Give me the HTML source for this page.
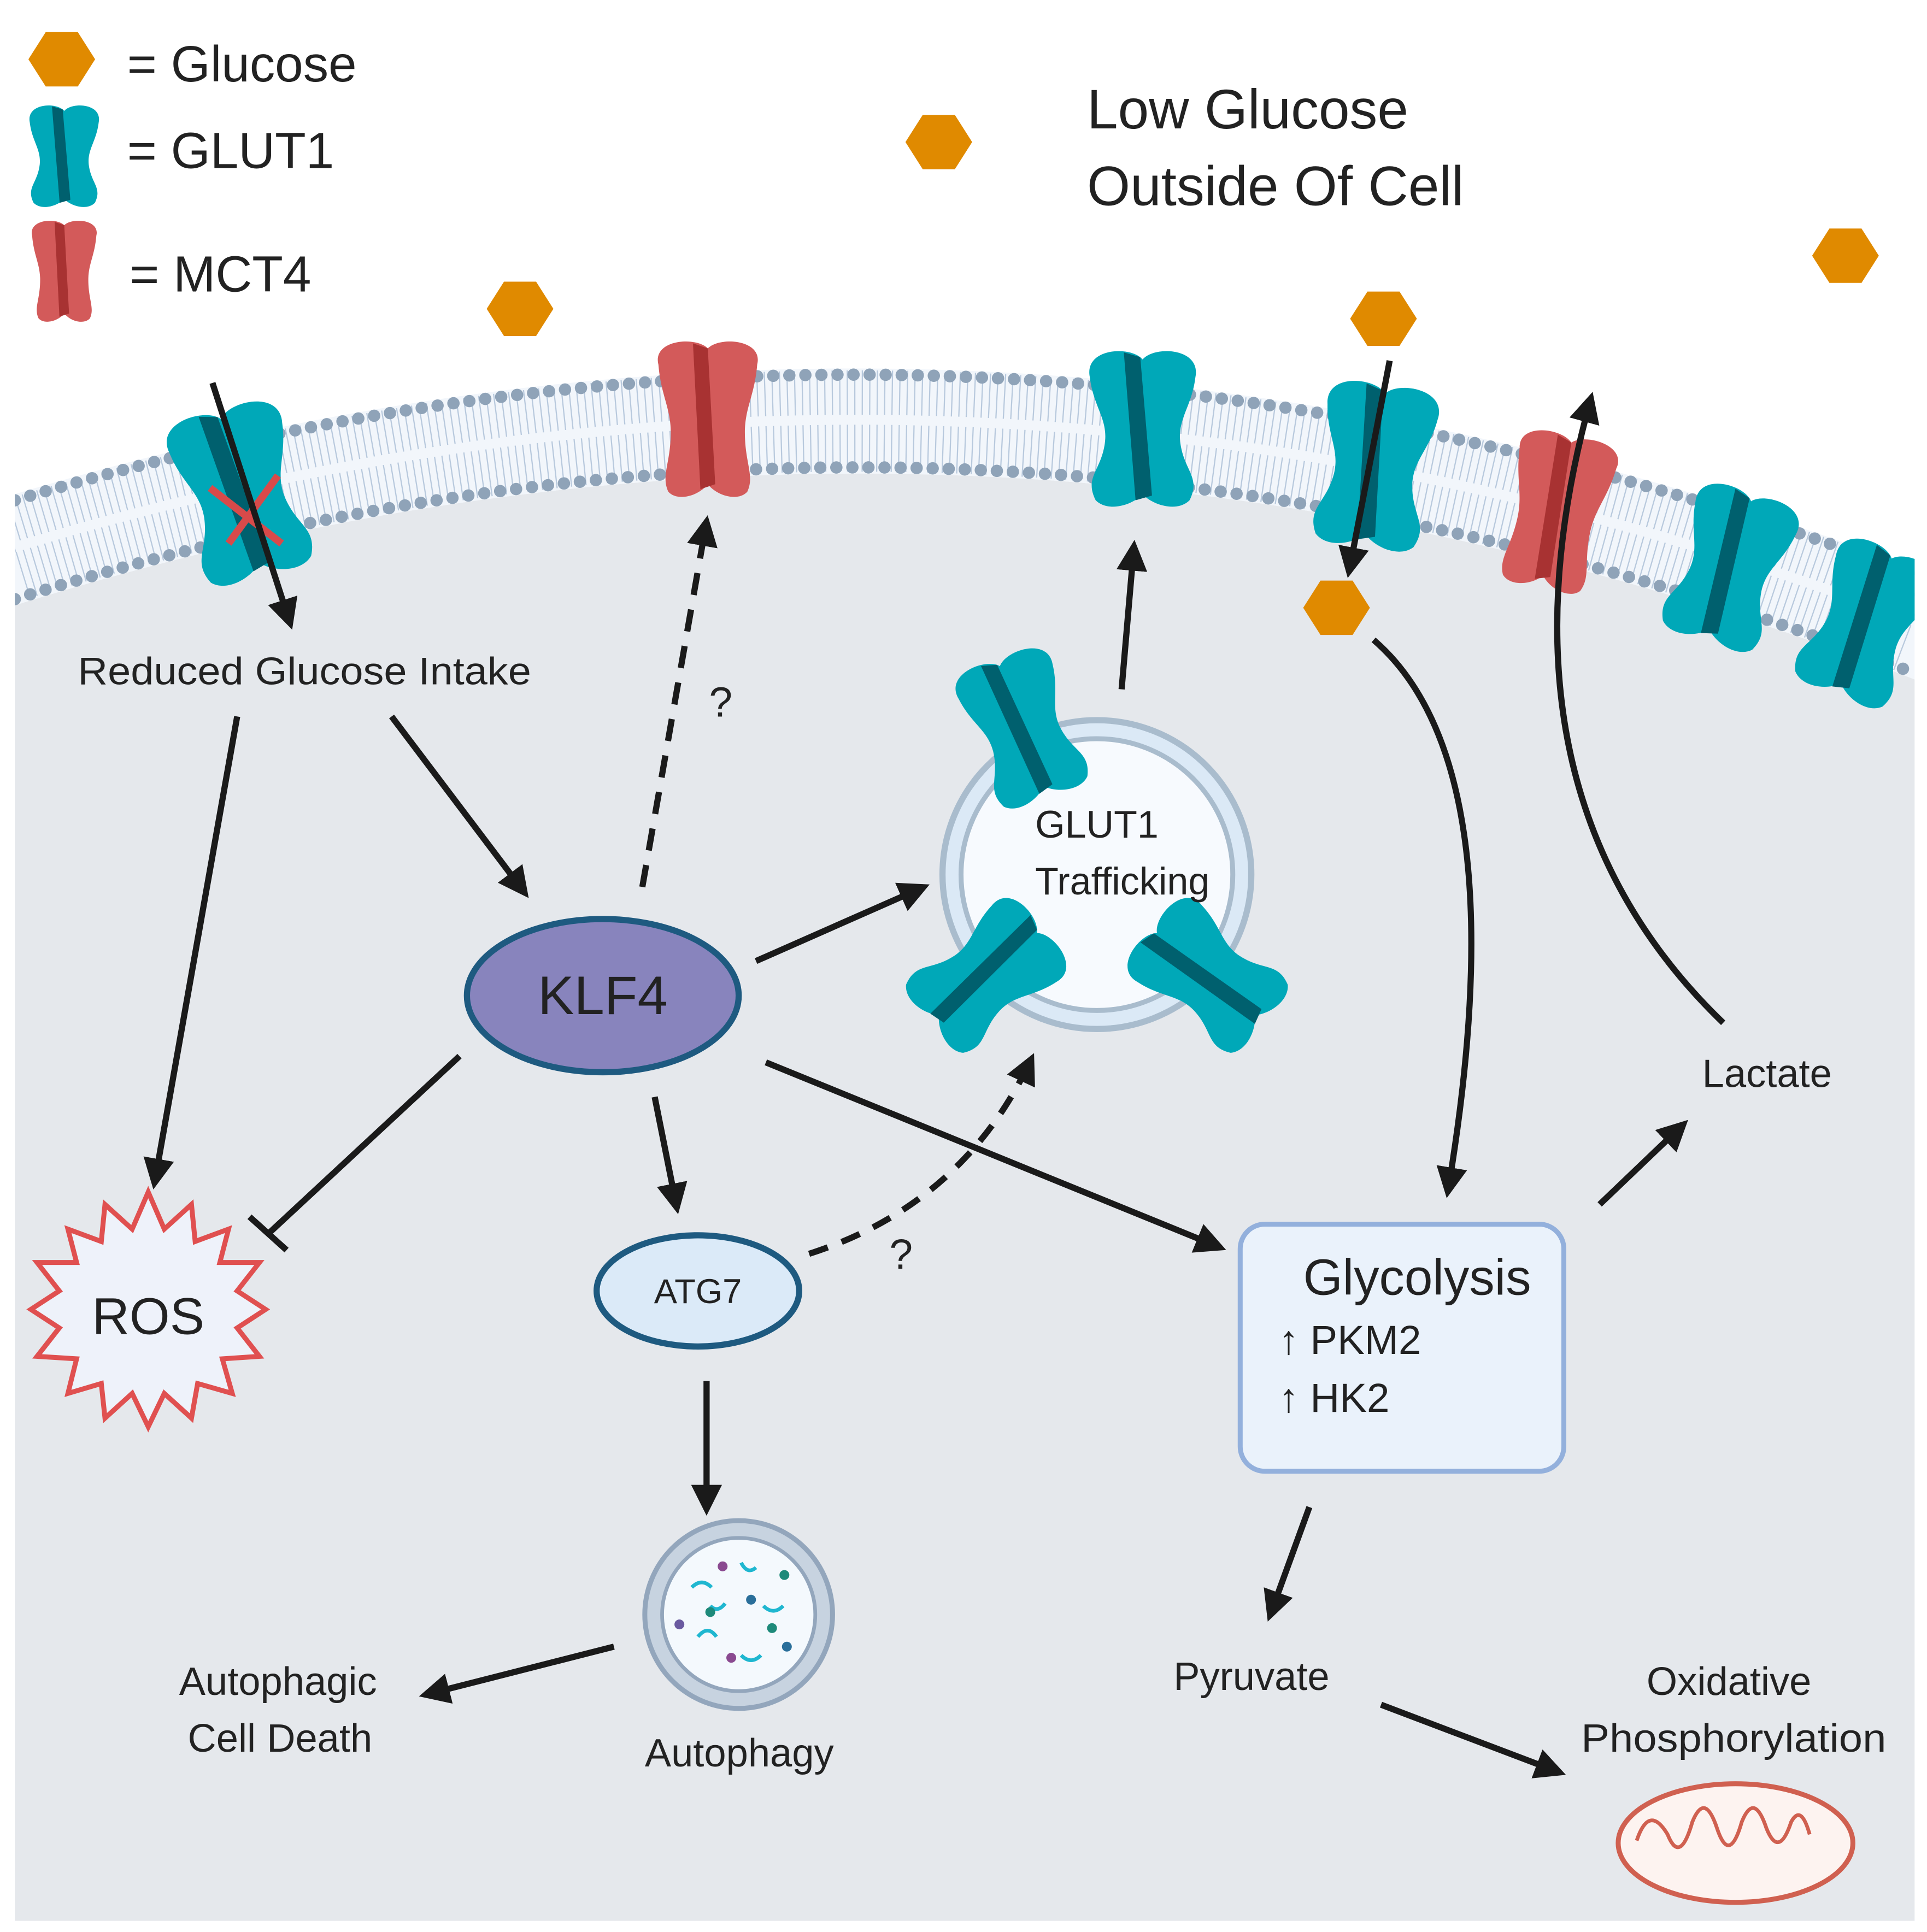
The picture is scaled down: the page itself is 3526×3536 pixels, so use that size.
<!DOCTYPE html>
<html><head><meta charset="utf-8"><style>
html,body{margin:0;padding:0;background:#fff}
svg{display:block}
text{font-family:"Liberation Sans",sans-serif;fill:#222}
</style></head><body>
<svg width="3526" height="3536" viewBox="0 0 1560 1564" preserveAspectRatio="none" xmlns="http://www.w3.org/2000/svg">
<defs>
<clipPath id="cc"><rect x="12" y="0" width="1538" height="1564"/></clipPath>
<marker id="ah" viewBox="0 0 10 10" refX="8" refY="5" markerWidth="5" markerHeight="5" orient="auto" markerUnits="strokeWidth">
<path d="M0,0 L10,5 L0,10 Z" fill="#1a1a1a"/></marker>
<g id="glut">
<path d="M-45,-45 C-50,-70 -10,-72 0,-60 C10,-72 50,-70 45,-45 C42,-20 30,-10 32,10 C35,35 50,40 40,60 C30,70 10,65 0,55 C-10,65 -30,70 -40,60 C-50,40 -35,35 -32,10 C-30,-10 -42,-20 -45,-45Z" fill="#00a8b8"/>
<path d="M-16,-66 L-2,-62 L8,56 L-6,60Z" fill="#00606e"/>
</g>
<g id="mct">
<path d="M-40,-45 C-45,-65 -10,-68 0,-58 C10,-68 45,-65 40,-45 C38,-20 30,-10 30,10 C30,35 38,45 32,58 C25,66 8,62 0,52 C-8,62 -25,66 -32,58 C-38,45 -30,35 -30,10 C-30,-10 -38,-20 -40,-45Z" fill="#d35a5a"/>
<path d="M-12,-62 L0,-58 L6,52 L-6,56Z" fill="#a83232"/>
</g>
<polygon id="hex" points="-27,0 -13,-22 13,-22 27,0 13,22 -13,22" fill="#e08a00"/>
</defs>
<rect width="1560" height="1564" fill="#fff"/>
<g clip-path="url(#cc)">
<path d="M12,490 Q780,250 1550,550 L1550,1555 L12,1555 Z" fill="#e5e8ec"/>
<path d="M12,400 Q780,170 1550,460 L1550,550 Q780,250 12,490 Z" fill="#f2f6fb"/>
<path d="M12,445 Q780,210 1550,505" fill="none" stroke="#b8c9dd" stroke-width="82" stroke-dasharray="1 5"/>
<path d="M12,443 Q780,210 1550,503" fill="none" stroke="#f2f6fb" stroke-width="8"/>
<path d="M12,405 Q780,175 1550,465" fill="none" stroke="#8fa3b8" stroke-width="10" stroke-linecap="round" stroke-dasharray="0 13"/>
<path d="M12,485 Q780,245 1550,545" fill="none" stroke="#8fa3b8" stroke-width="10" stroke-linecap="round" stroke-dasharray="0 13"/>
<use href="#glut" transform="translate(195,400) rotate(-15) scale(1.05)"/>
<path d="M170,395 L228,440 M225,385 L185,440" stroke="#d84a4a" stroke-width="6"/>
<use href="#mct" transform="translate(573,340) scale(1.0)"/>
<use href="#glut" transform="translate(925,348) scale(0.95)"/>
<use href="#glut" transform="translate(1113,378) rotate(8) scale(1.0)"/>
<use href="#mct" transform="translate(1260,415) rotate(12) scale(1.0)"/>
<use href="#glut" transform="translate(1400,460) rotate(18) scale(0.95)"/>
<use href="#glut" transform="translate(1510,505) rotate(22) scale(0.95)"/>
</g>
<use href="#hex" transform="translate(50,48) scale(1)"/>
<use href="#glut" transform="translate(52,127) scale(0.62)"/>
<use href="#mct" transform="translate(52,220) scale(0.65)"/>
<text x="103" y="66" font-size="41">= Glucose</text>
<text x="103" y="136" font-size="41">= GLUT1</text>
<text x="105" y="236" font-size="41">= MCT4</text>
<text x="880" y="104" font-size="45">Low Glucose</text>
<text x="880" y="166" font-size="45">Outside Of Cell</text>
<use href="#hex" transform="translate(760,115)"/>
<use href="#hex" transform="translate(421,250)"/>
<use href="#hex" transform="translate(1120,258)"/>
<use href="#hex" transform="translate(1494,207)"/>
<use href="#hex" transform="translate(1082,492)"/>
<circle cx="888" cy="708" r="125" fill="#dbe9f6" stroke="#a9bccd" stroke-width="5"/>
<circle cx="888" cy="708" r="110" fill="#f7fafe" stroke="#a9bccd" stroke-width="4"/>
<use href="#glut" transform="translate(828,590) rotate(-20) scale(0.9)"/>
<use href="#glut" transform="translate(798,790) rotate(50) scale(0.9)"/>
<use href="#glut" transform="translate(978,790) rotate(-50) scale(0.9)"/>
<text x="838" y="678" font-size="31">GLUT1</text>
<text x="838" y="724" font-size="31">Trafficking</text>
<g stroke="#1a1a1a" stroke-width="5" fill="none" marker-end="url(#ah)">
<path d="M172,310 L235,505"/>
<path d="M192,580 L125,958"/>
<path d="M317,580 L425,723"/>
<path d="M520,718 L572,422" stroke-dasharray="18 12"/>
<path d="M612,778 L748,718"/>
<path d="M908,558 L918,442"/>
<path d="M1125,292 L1092,463"/>
<path d="M1112,518 Q1230,620 1172,965"/>
<path d="M1395,828 Q1200,640 1288,322"/>
<path d="M530,888 L548,978"/>
<path d="M620,860 L988,1010"/>
<path d="M655,1015 Q780,975 835,857" stroke-dasharray="16 12"/>
<path d="M1295,975 L1363,910"/>
<path d="M572,1118 L572,1222"/>
<path d="M497,1333 L344,1372"/>
<path d="M1060,1220 L1028,1308"/>
<path d="M1118,1380 L1263,1435"/>
</g>
<path d="M372,855 L218,998 M202,985 L232,1012" stroke="#1a1a1a" stroke-width="5" fill="none"/>
<text x="63" y="554" font-size="31" textLength="367" lengthAdjust="spacingAndGlyphs">Reduced Glucose Intake</text>
<text x="574" y="580" font-size="34">?</text>
<text x="720" y="1027" font-size="34">?</text>
<ellipse cx="488" cy="806" rx="110" ry="62" fill="#8884bd" stroke="#1e5a80" stroke-width="5"/>
<text x="488" y="821" font-size="44" text-anchor="middle">KLF4</text>
<polygon points="120,965 133,995 155,975 158,1005 185,995 178,1022 210,1022 192,1045 215,1060 192,1075 210,1098 180,1100 188,1128 160,1120 155,1148 133,1128 120,1155 107,1128 85,1148 82,1120 55,1128 62,1100 30,1098 48,1075 25,1060 48,1045 30,1022 62,1022 55,995 82,1005 85,975 107,995" fill="#eef2fa" stroke="#e05050" stroke-width="4"/>
<text x="120" y="1080" font-size="42" text-anchor="middle">ROS</text>
<ellipse cx="565" cy="1045" rx="82" ry="45" fill="#dbeaf8" stroke="#1e5a80" stroke-width="5"/>
<text x="565" y="1055" font-size="28" text-anchor="middle">ATG7</text>
<rect x="1004" y="991" width="262" height="200" rx="20" fill="#eaf2fb" stroke="#93b0dc" stroke-width="4"/>
<text x="1055" y="1048" font-size="41">Glycolysis</text>
<text x="1035" y="1096" font-size="33">↑ PKM2</text>
<text x="1035" y="1143" font-size="33">↑ HK2</text>
<text x="1378" y="880" font-size="32">Lactate</text>
<circle cx="598" cy="1307" r="76" fill="#c7d3e0" stroke="#93a6bc" stroke-width="4"/>
<circle cx="598" cy="1307" r="62" fill="#f4f9fd" stroke="#93a6bc" stroke-width="3"/>
<g stroke="#1fb7d0" stroke-width="3" fill="none">
<path d="M560,1285 q8,-8 16,0"/><path d="M600,1265 q5,10 12,4"/><path d="M618,1300 q8,8 16,0"/><path d="M565,1325 q8,-10 15,0"/><path d="M600,1340 q8,8 16,0"/><path d="M575,1300 q6,6 12,-2"/>
</g>
<g fill="#2a6f9a"><circle cx="585" cy="1268" r="4" fill="#8a4a90"/><circle cx="635" cy="1275" r="4" fill="#1e8a7a"/><circle cx="608" cy="1295" r="4"/><circle cx="550" cy="1315" r="4" fill="#6a5aa0"/><circle cx="625" cy="1318" r="4" fill="#1e8a7a"/><circle cx="592" cy="1342" r="4" fill="#8a4a90"/><circle cx="637" cy="1333" r="4"/><circle cx="575" cy="1305" r="4" fill="#1e8a7a"/></g>
<text x="522" y="1430" font-size="32">Autophagy</text>
<text x="145" y="1372" font-size="32">Autophagic</text>
<text x="152" y="1418" font-size="32">Cell Death</text>
<text x="950" y="1368" font-size="32">Pyruvate</text>
<text x="1333" y="1372" font-size="32">Oxidative</text>
<text x="1280" y="1418" font-size="32" textLength="247" lengthAdjust="spacingAndGlyphs">Phosphorylation</text>
<ellipse cx="1405" cy="1492" rx="95" ry="48" fill="#fdf3f0" stroke="#d06050" stroke-width="4"/>
<path d="M1325,1490 q10,-30 25,-5 q10,25 20,-10 q10,-25 20,5 q10,30 20,-5 q10,-25 20,5 q10,25 20,-5 q8,-15 15,10" fill="none" stroke="#d06050" stroke-width="3"/>
</svg>
</body></html>
